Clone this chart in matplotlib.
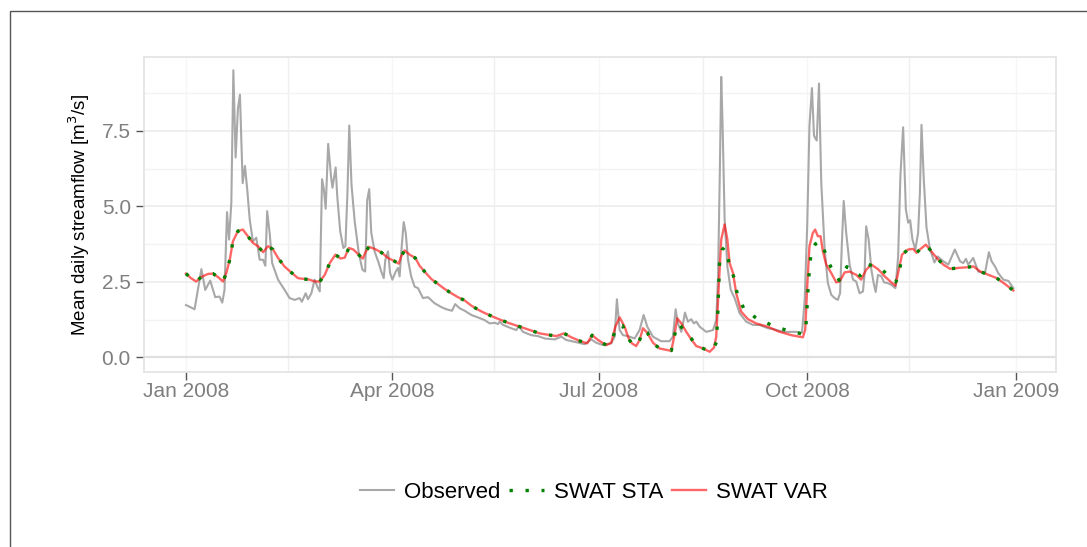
import datetime as dt
import numpy as np
import matplotlib
matplotlib.use("Agg")
import matplotlib.pyplot as plt
import matplotlib.dates as mdates
from matplotlib.lines import Line2D
from matplotlib.patches import Rectangle

plt.rcParams["font.family"] = ["Liberation Sans", "DejaVu Sans"]

# Day offsets from 1 Jan 2008 and streamflow values [m3/s]
obs_day = [0, 3.8, 6.8, 8.5, 10.7, 12.9, 14.8, 16, 17, 18.1, 19, 20, 20.9, 21.9, 22.9, 23.8, 25, 26, 27,
           28.1, 29.5, 31, 32.5, 34, 35, 35.8, 36.9, 38, 40.6, 43.5, 45.7, 47.9, 50.1, 51.1, 52.8, 53.8,
           55.3, 56.7, 57.9, 59, 60, 60.8, 61.6, 62.7, 64, 64.6, 66, 66.7, 68, 69.4, 70.3, 71.2, 72, 73,
           74.4, 76.2, 77.8, 79, 79.9, 80.8, 81.7, 83.2, 85, 86.1, 87.2, 87.9, 89.1, 90, 91, 92.5, 93.5,
           94.2, 94.9, 96, 96.9, 97.9, 99.3, 100.8, 102.3, 104.5, 106.7, 109.6, 112.6, 114.8, 117.3,
           118.7, 120.7, 122.9, 125.8, 128.7, 131.7, 133.9, 136.1, 137.6, 138.3, 139.8, 143.4, 145.7,
           146.7, 148.6, 152.3, 155.2, 158.2, 162.6, 165.5, 167.7, 171.4, 175.8, 178.7, 180.9, 183.9,
           187.5, 189, 190, 191.2, 192.7, 194.9, 197.8, 200, 201.8, 203.4, 205.9, 209.5, 213.2, 214.7,
           215.9, 216.9, 218.4, 219.3, 220, 221.3, 222.8, 223.9, 225, 226.5, 229.4, 232.4, 233.8, 234.6,
           235.4, 236, 236.6, 237.5, 238.7, 240.2, 241.9, 244.1, 247, 250, 252.9, 256.6, 259.6, 263.2,
           265.4, 269.1, 271.6, 272.8, 273.9, 274.9, 276, 276.9, 278.1, 279.1, 280.1, 281.6, 283, 284.5,
           286, 287.4, 288.4, 289.2, 290, 291.1, 292.6, 294.1, 295.5, 297, 298.5, 299.2, 299.9, 301,
           302.2, 303.2, 304.1, 305.1, 306.6, 307.8, 309.3, 311, 312.8, 314, 315, 316.2, 317.4, 318.4,
           319.3, 320.3, 321.6, 322.8, 323.6, 324.3, 325.3, 326.5, 328, 330, 331.4, 333.9, 336.1, 339,
           341.3, 342.7, 343.9, 344.9, 347.1, 349.3, 352.3, 354, 355.2, 356.7, 358.1, 360.4, 362.6,
           363.8, 364.8]
obs_val = [1.73, 1.59, 2.92, 2.23, 2.54, 1.99, 2.01, 1.81, 2.23, 4.81, 3.9, 5.12, 9.51, 6.62, 8.23, 8.7,
           5.77, 6.34, 5.57, 4.57, 3.84, 3.96, 3.23, 3.23, 3.03, 4.84, 4.12, 3.12, 2.57, 2.23, 1.96, 1.9,
           1.96, 1.84, 2.12, 1.92, 2.12, 2.57, 2.34, 2.18, 5.9, 5.57, 4.92, 7.07, 5.96, 5.62, 6.29, 5.34,
           4.18, 3.62, 3.68, 5.46, 7.68, 5.7, 4.5, 3.45, 2.9, 2.84, 5.2, 5.57, 4.12, 3.5, 3.12, 2.84, 2.62,
           3.23, 3.51, 2.79, 2.57, 2.84, 2.96, 2.68, 3.46, 4.48, 4.12, 3.23, 2.68, 2.34, 2.29, 1.96, 1.99,
           1.79, 1.66, 1.59, 1.54, 1.76, 1.62, 1.54, 1.4, 1.32, 1.23, 1.12, 1.14, 1.1, 1.18, 1.07, 0.96,
           0.9, 1.03, 0.84, 0.73, 0.7, 0.62, 0.59, 0.68, 0.57, 0.51, 0.43, 0.59, 0.48, 0.4, 0.46, 0.68,
           1.92, 0.9, 0.73, 0.7, 0.62, 0.9, 1.4, 1.01, 0.68, 0.53, 0.53, 0.68, 1.59, 1.12, 0.84, 1.18,
           1.48, 1.18, 1.26, 1.12, 1.18, 1.01, 0.84, 0.9, 1.23, 2.68, 6.23, 9.29, 7.68, 4.57, 3.01, 2.23,
           1.96, 1.46, 1.18, 1.07, 1.07, 0.96, 0.92, 0.84, 0.84, 0.84, 0.81, 1.9, 4.34, 7.68, 8.92, 7.34,
           7.18, 9.07, 5.79, 3.57, 2.46, 2.07, 1.96, 1.9, 2.12, 3.79, 5.18, 4.12, 3.07, 2.57, 2.51, 2.12,
           2.18, 2.79, 4.34, 3.9, 2.9, 2.46, 2.16, 2.73, 2.68, 2.48, 2.46, 2.4, 2.29, 3.34, 6.01, 7.62,
           4.9, 4.46, 4.54, 3.9, 3.57, 4.12, 5.46, 7.7, 5.9, 4.3, 3.6, 3.14, 3.34, 3.18, 3.07, 3.57,
           3.18, 3.12, 3.26, 3.07, 3.29, 2.84, 2.79, 3.48, 3.18, 3.01, 2.79, 2.57, 2.53, 2.4, 2.29]

var_day = [0, 2.2, 4.5, 6.8, 9.7, 11.9, 14.1, 16.3, 17.8, 19.3, 20.7, 22.9, 25.1, 27.3, 29.5, 31.7, 34,
           36.2, 38.4, 40.6, 43.4, 46.4, 49.4, 52.3, 54.5, 56.7, 59, 61.2, 63.4, 65.9, 68.2, 70, 71.8,
           73.8, 76.1, 78, 79, 80.6, 83.2, 86.2, 89.1, 92, 93.8, 94.9, 96.4, 98.6, 101.1, 103, 105.2,
           108.2, 111.1, 114.1, 117, 119.9, 122.9, 125.8, 128.7, 131, 135.4, 142, 149.3, 155.9, 163.2,
           166.7, 169.9, 173.6, 176.9, 179.1, 181.7, 185.3, 187.5, 189.3, 191.2, 193.4, 195.2, 196.6,
           198.5, 200, 201.5, 203.4, 205.9, 208.8, 214, 215.5, 216.6, 218.4, 220.6, 222.8, 225, 228,
           230.9, 232.8, 233.8, 234.9, 236, 237.5, 238.7, 239.7, 241.2, 242.6, 244.8, 247.8, 251.4,
           256.6, 261, 266.9, 272, 273, 273.9, 274.9, 276.4, 277.4, 278.6, 279.8, 280.8, 282.3, 284.5,
           286.7, 288.2, 290.4, 292.6, 295.5, 297.7, 299.9, 302.2, 305.1, 308.1, 311, 312.8, 314, 315.7,
           318.4, 320.6, 322.1, 323.6, 326.2, 328, 331, 333.9, 336.9, 340.6, 344.3, 347.2, 350.2, 353.9,
           357.5, 361.2, 364.8]
var_val = [2.77, 2.62, 2.51, 2.66, 2.76, 2.77, 2.66, 2.51, 2.79, 3.23, 3.84, 4.18, 4.23, 4.01, 3.79,
           3.68, 3.48, 3.68, 3.57, 3.29, 3.01, 2.81, 2.62, 2.59, 2.57, 2.51, 2.51, 2.73, 3.12, 3.4, 3.27,
           3.3, 3.62, 3.57, 3.4, 3.27, 3.46, 3.66, 3.59, 3.47, 3.29, 3.18, 3.1, 3.34, 3.54, 3.4, 3.29,
           3.03, 2.84, 2.59, 2.43, 2.26, 2.12, 1.99, 1.88, 1.71, 1.58, 1.49, 1.34, 1.14, 0.96, 0.79, 0.7,
           0.79, 0.66, 0.54, 0.46, 0.73, 0.57, 0.4, 0.48, 1.01, 1.32, 1.01, 0.62, 0.46, 0.37, 0.57, 0.96,
           0.81, 0.48, 0.29, 0.21, 0.79, 1.29, 1.12, 0.84, 0.59, 0.37, 0.29, 0.18, 0.32, 0.68, 2.34, 3.9,
           4.4, 3.9, 3.12, 2.79, 2.12, 1.51, 1.26, 1.12, 1.01, 0.86, 0.73, 0.66, 0.9, 2.34, 3.68, 4.12,
           4.23, 4.01, 4.01, 3.51, 3.07, 2.79, 2.48, 2.51, 2.81, 2.84, 2.73, 2.57, 2.9, 3.07, 2.92, 2.68,
           2.48, 2.37, 2.79, 3.4, 3.57, 3.59, 3.46, 3.57, 3.73, 3.57, 3.29, 3.07, 2.93, 2.96, 2.98, 3.01,
           2.84, 2.73, 2.62, 2.42, 2.21]

sta_day = [0, 2.2, 4.5, 6.8, 9.7, 11.9, 14.1, 16.3, 17.8, 19.3, 20.7, 22.9, 25.1, 27.3, 29.5, 31.7, 34,
           36.2, 38.4, 40.6, 43.4, 46.4, 49.4, 52.3, 54.5, 56.7, 59, 61.2, 63.4, 65.9, 68.2, 70, 71.8,
           73.8, 76.1, 78, 79, 80.6, 83.2, 86.2, 89.1, 92, 93.8, 94.9, 96.4, 98.6, 101.1, 103, 105.2,
           108.2, 111.1, 114.1, 117, 119.9, 122.9, 125.8, 128.7, 131, 135.4, 142, 149.3, 155.9, 163.2,
           166.7, 169.9, 173.6, 176.9, 179.1, 181.7, 185.3, 187.5, 189.3, 190.5, 192.5, 194.2, 196.6,
           198.5, 200, 201.5, 203.4, 205.9, 208.8, 214, 215.5, 217, 218.4, 220.6, 222.8, 225, 228,
           230.9, 232.8, 233.9, 234.5, 235.3, 236.3, 237.4, 238.5, 239.5, 241.6, 243, 245.9, 251.5,
           258, 265.2, 271.8, 273.2, 274.3, 274.9, 275.7, 277.5, 279.3, 280.5, 281.6, 284.2, 288,
           291.4, 294.5, 297.3, 301, 306.6, 311.7, 313, 314.6, 315.7, 318.4, 320.6, 322.1, 323.6,
           326.2, 328, 331, 333.9, 336.9, 340.6, 344.3, 347.2, 350.2, 353.9, 357.5, 361.2, 364.8]
sta_val = [2.77, 2.62, 2.51, 2.66, 2.76, 2.77, 2.66, 2.51, 2.79, 3.23, 3.84, 4.18, 4.23, 4.01, 3.79,
           3.68, 3.48, 3.68, 3.57, 3.29, 3.01, 2.81, 2.62, 2.59, 2.57, 2.51, 2.51, 2.73, 3.12, 3.4, 3.27,
           3.3, 3.62, 3.57, 3.4, 3.27, 3.46, 3.66, 3.59, 3.47, 3.29, 3.18, 3.1, 3.34, 3.54, 3.4, 3.29,
           3.03, 2.84, 2.59, 2.43, 2.26, 2.12, 1.99, 1.88, 1.71, 1.58, 1.49, 1.34, 1.14, 0.96, 0.79, 0.7,
           0.79, 0.66, 0.54, 0.46, 0.73, 0.57, 0.4, 0.48, 0.9, 1.05, 1.05, 0.7, 0.46, 0.37, 0.57, 0.9,
           0.82, 0.45, 0.3, 0.22, 0.75, 1.12, 1.0, 0.8, 0.62, 0.37, 0.29, 0.2, 0.32, 0.5, 1.5, 3.2,
           3.55, 3.64, 3.4, 3.12, 2.64, 2.12, 1.62, 1.29, 1.07, 0.88, 0.77, 0.85, 2.29, 2.95, 3.51,
           3.75, 3.84, 3.7, 3.51, 3.01, 2.55, 3.0, 2.85, 2.7, 3.07, 2.93, 2.54, 2.5, 2.84, 3.4, 3.57,
           3.59, 3.46, 3.57, 3.73, 3.57, 3.29, 3.07, 2.93, 2.96, 2.98, 3.01, 2.84, 2.73, 2.62, 2.42,
           2.21]

series_labels = ["Observed", "SWAT STA", "SWAT VAR"]
ytick_vals = [0.0, 2.5, 5.0, 7.5]
tick_dates = [dt.date(2008, 1, 1), dt.date(2008, 4, 1), dt.date(2008, 7, 1),
              dt.date(2008, 10, 1), dt.date(2009, 1, 1)]
minor_dates = [dt.date(2008, 2, 15), dt.date(2008, 5, 16), dt.date(2008, 8, 16),
               dt.date(2008, 11, 15)]

start = mdates.date2num(dt.datetime(2008, 1, 1))


def to_x(days):
    return start + np.asarray(days, dtype=float)


GREY = "#a8a8a8"
GREEN = "#008000"
DOTS = (0, (1, 3.8))

W, H = 1087, 547
fig = plt.figure(figsize=(W / 100, H / 100), dpi=100)
ax = fig.add_axes([144 / W, 1 - 372 / H, (1056 - 144) / W, (372 - 57) / H])

# outer frame around the figure
fig.patches.append(Rectangle((9.5 / W, -0.2), 1.5, 1 - 10.5 / H + 0.2, transform=fig.transFigure,
                             fill=False, edgecolor="#555555", linewidth=1.0))

ax.set_facecolor("white")
for s in ax.spines.values():
    s.set_color("#e3e3e3")
    s.set_linewidth(1.2)

# grid
for d in minor_dates:
    ax.axvline(mdates.date2num(d), color="#efefef", lw=1.0, zorder=0)
for d in tick_dates:
    ax.axvline(mdates.date2num(d), color="#f6f6f6", lw=1.0, zorder=0)
for v in [1.25, 3.75, 6.25, 8.75]:
    ax.axhline(v, color="#f3f3f3", lw=1.0, zorder=0)
for v in ytick_vals[1:]:
    ax.axhline(v, color="#eeeeee", lw=1.3, zorder=0)
ax.axhline(0.0, color="#e0e0e0", lw=1.6, zorder=0)

ax.plot(to_x(obs_day), obs_val, color=GREY, lw=1.5, zorder=2, solid_joinstyle="round")
ax.plot(to_x(var_day), var_val, color="#ff0000", alpha=0.6, lw=1.7, zorder=3,
        solid_joinstyle="round")
ax.plot(to_x(sta_day), sta_val, color=GREEN, lw=2.4, linestyle=DOTS,
        dash_capstyle="butt", zorder=4)

ax.set_xlim(start - 18.5, start + 383.6)
ax.set_ylim(-0.49, 9.95)

ax.set_xticks([mdates.date2num(d) for d in tick_dates])
ax.set_xticklabels([d.strftime("%b %Y") for d in tick_dates])
ax.set_yticks(ytick_vals)
ax.set_yticklabels([f"{v:.1f}" for v in ytick_vals])
ax.tick_params(axis="both", colors="#555555", labelcolor="#7f7f7f", labelsize=15,
               length=5.5, width=1.0)
ax.tick_params(axis="x", pad=2)
ax.tick_params(axis="y", pad=4)

ax.set_ylabel("Mean daily streamflow [m$^3$/s]", fontsize=13.5, color="black", labelpad=7)

handles = [Line2D([], [], color=GREY, lw=1.5),
           Line2D([], [], color=GREEN, lw=2.4, linestyle=DOTS, dash_capstyle="butt"),
           Line2D([], [], color="#ff0000", alpha=0.6, lw=1.7)]
fig.legend(handles, series_labels, loc="center", bbox_to_anchor=(594 / W, 1 - 492 / H), ncol=3,
           frameon=False, fontsize=16, handlelength=1.55, handletextpad=0.45, columnspacing=0.4)

fig.savefig("out.png", dpi=100, facecolor="white")
